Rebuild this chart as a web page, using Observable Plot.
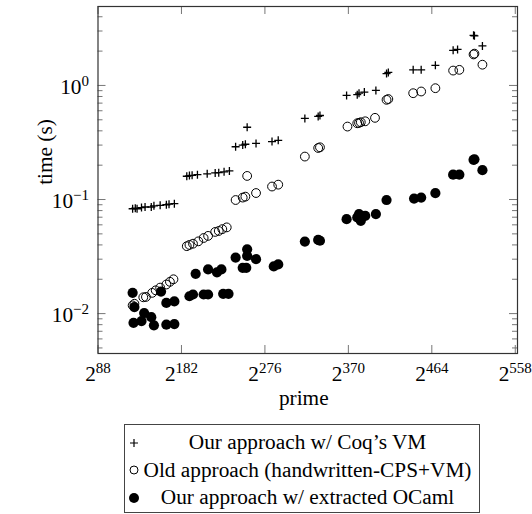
<!DOCTYPE html>
<html>
<head>
<meta charset="utf-8">
<script src="https://cdn.jsdelivr.net/npm/d3@7"></script>
<script src="https://cdn.jsdelivr.net/npm/@observablehq/plot@0.6"></script>
<style>
  body { margin: 0; background: white; }
  #wrap { position: relative; width: 532px; height: 514px; font-family: "Liberation Serif", serif; }
  #legend { position: absolute; left: 124px; top: 424px; width: 356px; height: 89px; box-sizing: border-box;
            border: 1px solid #444; padding-top: 4px; font-size: 21.3px; color: black; }
  .row { display: flex; align-items: center; height: 27.5px; }
  .sym { width: 17px; display: flex; justify-content: center; }
  .lab { flex: 1; text-align: center; padding-right: 6px; white-space: nowrap; }
</style>
</head>
<body>
<div id="wrap"></div>
<script>
// ---- data (x = log2(prime) in bits, y = time in seconds) ----
const seriesNames = ["Our approach w/ Coq’s VM", "Old approach (handwritten-CPS+VM)", "Our approach w/ extracted OCaml"];

const coqBits = [127, 130, 132, 137, 141, 148, 151, 158, 165, 168, 174,
  188, 191, 194, 200, 211, 220, 224, 230, 236,
  243, 251, 254, 256, 266, 284, 291, 321, 336, 338,
  368, 380, 382, 388, 401, 413, 415, 443, 452, 468, 488, 493, 511, 512, 521];
const coqTime = [0.083, 0.084, 0.083, 0.085, 0.086, 0.086, 0.088, 0.089, 0.090, 0.091, 0.092,
  0.160, 0.162, 0.163, 0.165, 0.168, 0.171, 0.172, 0.175, 0.178,
  0.290, 0.300, 0.305, 0.43, 0.310, 0.322, 0.330, 0.514, 0.535, 0.545,
  0.817, 0.830, 0.855, 0.874, 0.905, 1.27, 1.30, 1.37, 1.37, 1.50, 2.03, 2.07, 2.75, 2.72, 2.22];

const oldBits = [127, 129, 139, 142, 149, 153, 158, 165, 169, 173,
  188, 191, 195, 201, 207, 212, 220, 224, 228, 233,
  243, 251, 254, 256, 266, 284, 291, 321, 336, 338,
  369, 380, 382, 384, 389, 400, 413, 415, 443, 452, 468, 488, 495, 511, 512, 521];
const oldTime = [0.0118, 0.0122, 0.0139, 0.0140, 0.0152, 0.0160, 0.0169, 0.0180, 0.0190, 0.0200,
  0.039, 0.040, 0.041, 0.043, 0.046, 0.048, 0.052, 0.053, 0.055, 0.057,
  0.099, 0.104, 0.106, 0.161, 0.114, 0.130, 0.135, 0.238, 0.283, 0.287,
  0.436, 0.466, 0.470, 0.476, 0.485, 0.520, 0.748, 0.760, 0.855, 0.885, 0.946, 1.35, 1.37, 1.87, 1.90, 1.52];

const ocamlBits = [127, 129, 128, 137, 140, 148, 151, 159, 165, 165, 174, 174,
  191, 195, 198, 207, 212, 212, 222, 227, 229, 235,
  243, 251, 255, 256, 256, 266, 286, 291, 321, 336, 338,
  368, 380, 382, 384, 389, 401, 413, 444, 452, 468, 488, 495, 511, 512, 521];
const ocamlTime = [0.0152, 0.0114, 0.0083, 0.0086, 0.0101, 0.0093, 0.0079, 0.0156, 0.0124, 0.0080, 0.0128, 0.0081,
  0.0142, 0.0147, 0.0223, 0.0147, 0.0147, 0.0244, 0.0230, 0.0244, 0.0149, 0.0149,
  0.031, 0.0252, 0.0252, 0.0366, 0.032, 0.030, 0.0259, 0.027, 0.0428, 0.0442, 0.0435,
  0.0673, 0.0696, 0.0745, 0.065, 0.072, 0.0745, 0.099, 0.102, 0.104, 0.114, 0.165, 0.165, 0.223, 0.225, 0.181];

const xTicks = [88, 182, 276, 370, 464, 558];
const xTickLabels = ["2^88", "2^182", "2^276", "2^370", "2^464", "2^558"];
const yTicks = [0.01, 0.1, 1];
const yTickLabels = ["10^−2", "10^−1", "10^0"];

// ---- build ----
const toRows = (b, t) => b.map((v, i) => ({bits: v, time: t[i]}));
const coq = toRows(coqBits, coqTime);
const old = toRows(oldBits, oldTime);
const ocaml = toRows(ocamlBits, ocamlTime);

const plusSymbol = {
  draw(ctx, size) {
    const r = Math.sqrt(size / Math.PI);
    ctx.moveTo(-r, 0); ctx.lineTo(r, 0);
    ctx.moveTo(0, -r); ctx.lineTo(0, r);
  }
};

const W = 532, H = 418, mL = 97.5, mR = 15, mT = 6, mB = 65;
const fw = W - mL - mR, fh = H - mT - mB;
const yDomain = [0.00447, 4.92];
const minorY = [];
for (let k = -3; k <= 0; k++) for (let m = 2; m <= 9; m++) {
  const v = m * Math.pow(10, k);
  if (v > yDomain[0] && v < yDomain[1]) minorY.push(v);
}
const tickColor = "#777";
const FS = 21.3;

const chart = Plot.plot({
  width: W, height: H,
  marginLeft: mL, marginRight: mR, marginTop: mT, marginBottom: mB,
  x: {type: "linear", domain: [88, 560.5]},
  y: {type: "log", domain: yDomain},
  style: {fontFamily: "'Liberation Serif', serif", fontSize: FS + "px", color: "black", background: "white", overflow: "visible"},
  marks: [
    // inward ticks on all four sides
    Plot.tickY(yTicks, {y: d => d, insetRight: fw - 8, stroke: tickColor}),
    Plot.tickY(yTicks, {y: d => d, insetLeft: fw - 8, stroke: tickColor}),
    Plot.tickY(minorY, {y: d => d, insetRight: fw - 5, stroke: tickColor}),
    Plot.tickY(minorY, {y: d => d, insetLeft: fw - 5, stroke: tickColor}),
    Plot.tickX(xTicks, {x: d => d, insetTop: fh - 8, stroke: tickColor}),
    Plot.tickX(xTicks, {x: d => d, insetBottom: fh - 8, stroke: tickColor}),
    Plot.axisX(xTicks, {tickSize: 0, tickPadding: 12, fontSize: FS, label: null,
      tickFormat: d => xTickLabels[xTicks.indexOf(d)]}),
    Plot.axisY(yTicks, {tickSize: 0, tickPadding: 9, fontSize: FS, label: null, dy: 2,
      tickFormat: d => yTickLabels[yTicks.indexOf(d)]}),
    Plot.text(["prime"], {frameAnchor: "bottom", text: d => d, dy: 51, dx: -4, fontSize: FS}),
    Plot.text(["time (s)"], {frameAnchor: "left", textAnchor: "middle", text: d => d, rotate: -90, dx: -53, dy: -28, fontSize: FS}),
    Plot.dot(ocaml, {x: "bits", y: "time", r: 5.1, fill: "black", stroke: "none"}),
    Plot.dot(old, {x: "bits", y: "time", r: 4.4, fill: "none", stroke: "black", strokeWidth: 1}),
    Plot.dot(coq, {x: "bits", y: "time", r: 4, symbol: plusSymbol, fill: "none", stroke: "black", strokeWidth: 1.3}),
    Plot.frame({stroke: "#333", strokeWidth: 1.2})
  ]
});

// superscript tick labels
const NS = "http://www.w3.org/2000/svg";
function supify(sel) {
  chart.querySelectorAll(sel).forEach(t => {
    const s = t.textContent;
    if (!s.includes("^")) return;
    const [base, exp] = s.split("^");
    t.textContent = base;
    const ts = document.createElementNS(NS, "tspan");
    ts.setAttribute("dy", "-8");
    ts.setAttribute("font-size", "15");
    ts.textContent = exp;
    t.appendChild(ts);
  });
}
supify('g[aria-label="x-axis tick label"] text');
supify('g[aria-label="y-axis tick label"] text');

const wrap = document.getElementById("wrap");
wrap.appendChild(chart);

// legend
const symSvg = [
  `<svg width="12" height="12" viewBox="-6 -6 12 12"><path d="M-4,0H4M0,-4V4" stroke="black" stroke-width="1.2"/></svg>`,
  `<svg width="12" height="12" viewBox="-6 -6 12 12"><circle r="4" fill="none" stroke="black" stroke-width="1"/></svg>`,
  `<svg width="12" height="12" viewBox="-6 -6 12 12"><circle r="5" fill="black"/></svg>`
];
const legend = document.createElement("div");
legend.id = "legend";
legend.innerHTML = seriesNames.map((n, i) =>
  `<div class="row"><div class="sym">${symSvg[i]}</div><div class="lab">${n}</div></div>`).join("");
wrap.appendChild(legend);
</script>
</body>
</html>
